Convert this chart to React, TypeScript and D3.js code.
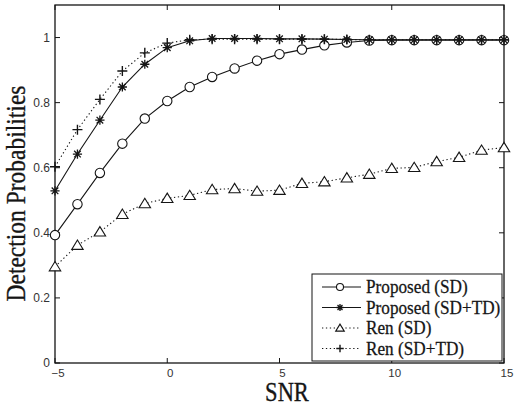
import React from "react";
import * as d3 from "d3";

const snr = [-5, -4, -3, -2, -1, 0, 1, 2, 3, 4, 5, 6, 7, 8, 9, 10, 11, 12, 13, 14, 15];
const proposedSD = [0.393, 0.488, 0.584, 0.674, 0.751, 0.805, 0.848, 0.879, 0.905, 0.929, 0.949, 0.963, 0.976, 0.985, 0.991, 0.992, 0.992, 0.992, 0.992, 0.992, 0.992];
const proposedSDTD = [0.529, 0.642, 0.746, 0.848, 0.918, 0.969, 0.99, 0.997, 0.997, 0.997, 0.996, 0.996, 0.995, 0.994, 0.993, 0.993, 0.993, 0.993, 0.993, 0.993, 0.993];
const renSD = [0.296, 0.362, 0.403, 0.457, 0.49, 0.506, 0.515, 0.533, 0.536, 0.528, 0.531, 0.552, 0.557, 0.569, 0.58, 0.598, 0.601, 0.619, 0.632, 0.654, 0.662];
const renSDTD = [0.603, 0.717, 0.81, 0.897, 0.953, 0.983, 0.993, 0.995, 0.995, 0.995, 0.995, 0.995, 0.995, 0.994, 0.993, 0.993, 0.993, 0.993, 0.993, 0.993, 0.993];
const xTicks = [-5, 0, 5, 10, 15];
const yTicks = [0, 0.2, 0.4, 0.6, 0.8, 1];
const legendLabels = ["Proposed (SD)", "Proposed (SD+TD)", "Ren (SD)", "Ren (SD+TD)"];

const L = 55, R = 504, T = 5, B = 363;
const x = d3.scaleLinear().domain([-5, 15]).range([L, R]);
const y = d3.scaleLinear().domain([0, 1.1]).range([B, T]);
const INK = "#151515";

type MarkerKind = "circle" | "star" | "triangle" | "plus";

function Marker({ kind, cx, cy, s = 1 }: { kind: MarkerKind; cx: number; cy: number; s?: number }) {
  const common = { stroke: INK, strokeWidth: 1.1, fill: "none" };
  if (kind === "circle") return <circle cx={cx} cy={cy} r={4.7 * s} {...common} fill="white" />;
  if (kind === "triangle") {
    const h = 5.2 * s;
    const pts = `${cx},${cy - h} ${cx - h * 1.1},${cy + h * 0.8} ${cx + h * 1.1},${cy + h * 0.8}`;
    return <polygon points={pts} {...common} fill="white" />;
  }
  if (kind === "plus") {
    const h = 5 * s;
    return (
      <path d={`M${cx - h},${cy}H${cx + h}M${cx},${cy - h}V${cy + h}`} {...common} strokeWidth={1.4} />
    );
  }
  const h = 4.6 * s;
  const d = h * 0.72;
  return (
    <path
      d={`M${cx - h},${cy}H${cx + h}M${cx},${cy - h}V${cy + h}M${cx - d},${cy - d}L${cx + d},${cy + d}M${cx - d},${cy + d}L${cx + d},${cy - d}`}
      {...common}
      strokeWidth={1.3}
    />
  );
}

const series: { values: number[]; kind: MarkerKind; dash?: string }[] = [
  { values: proposedSD, kind: "circle" },
  { values: proposedSDTD, kind: "star" },
  { values: renSD, kind: "triangle", dash: "1.3 2.6" },
  { values: renSDTD, kind: "plus", dash: "1.3 2.6" },
];

const serif = "Liberation Serif, Times New Roman, serif";
const sans = "Liberation Sans, Arial, sans-serif";

export default function App() {
  const line = d3
    .line<number>()
    .x((_, i) => x(snr[i]))
    .y((v) => y(v));
  const legX = 312, legY = 274, legW = 190, legH = 87;
  return (
    <svg width={515} height={408} style={{ position: "absolute", left: 0, top: 0, background: "white" }}>
      <rect x={0} y={0} width={515} height={408} fill="white" />
      <rect x={L} y={T} width={R - L} height={B - T} fill="none" stroke={INK} strokeWidth={1.3} />
      {xTicks.map((t) => (
        <g key={"x" + t}>
          <line x1={x(t)} x2={x(t)} y1={B} y2={B - 5} stroke={INK} />
          <line x1={x(t)} x2={x(t)} y1={T} y2={T + 5} stroke={INK} />
          <text x={x(t) + 3} y={376.5} textAnchor="middle" fontFamily={sans} fontSize={11.5} fill="#333">
            {t < 0 ? "\u2212" + Math.abs(t) : t}
          </text>
        </g>
      ))}
      {yTicks.map((t) => (
        <g key={"y" + t}>
          <line x1={L} x2={L + 5} y1={y(t)} y2={y(t)} stroke={INK} />
          <line x1={R} x2={R - 5} y1={y(t)} y2={y(t)} stroke={INK} />
          <text x={50} y={y(t) + 4} textAnchor="end" fontFamily={sans} fontSize={12} fill="#333">
            {String(t)}
          </text>
        </g>
      ))}
      {series.map((s, si) => (
        <g key={"s" + si}>
          <path d={line(s.values) || ""} fill="none" stroke={INK} strokeWidth={1.1} strokeDasharray={s.dash} />
          {s.values.map((v, i) => (
            <Marker key={i} kind={s.kind} cx={x(snr[i])} cy={y(v)} />
          ))}
        </g>
      ))}
      <rect x={legX} y={legY} width={legW} height={legH} fill="white" stroke={INK} strokeWidth={1} />
      {legendLabels.map((lab, i) => {
        const cy = 287 + i * 20.5;
        const s = series[i];
        return (
          <g key={lab}>
            <line x1={322} x2={361} y1={cy} y2={cy} stroke={INK} strokeWidth={1} strokeDasharray={s.dash} />
            <Marker kind={s.kind} cx={340} cy={cy} s={0.75} />
            <text
              transform={`translate(366,${cy + 6}) scale(1,1.12)`}
              fontFamily={serif}
              fontSize={17.2}
              fill={INK}
              stroke={INK}
              strokeWidth={0.25}
            >
              {lab}
            </text>
          </g>
        );
      })}
      <text
        transform="translate(287,401) scale(1,1.2)"
        textAnchor="middle"
        fontFamily={serif}
        fontSize={22.5}
        fill={INK}
        stroke={INK}
        strokeWidth={0.3}
      >
        SNR
      </text>
      <text
        transform="translate(25,193.5) rotate(-90) scale(1,1.12)"
        textAnchor="middle"
        fontFamily={serif}
        fontSize={23.5}
        fill={INK}
        stroke={INK}
        strokeWidth={0.3}
      >
        Detection Probabilities
      </text>
    </svg>
  );
}
